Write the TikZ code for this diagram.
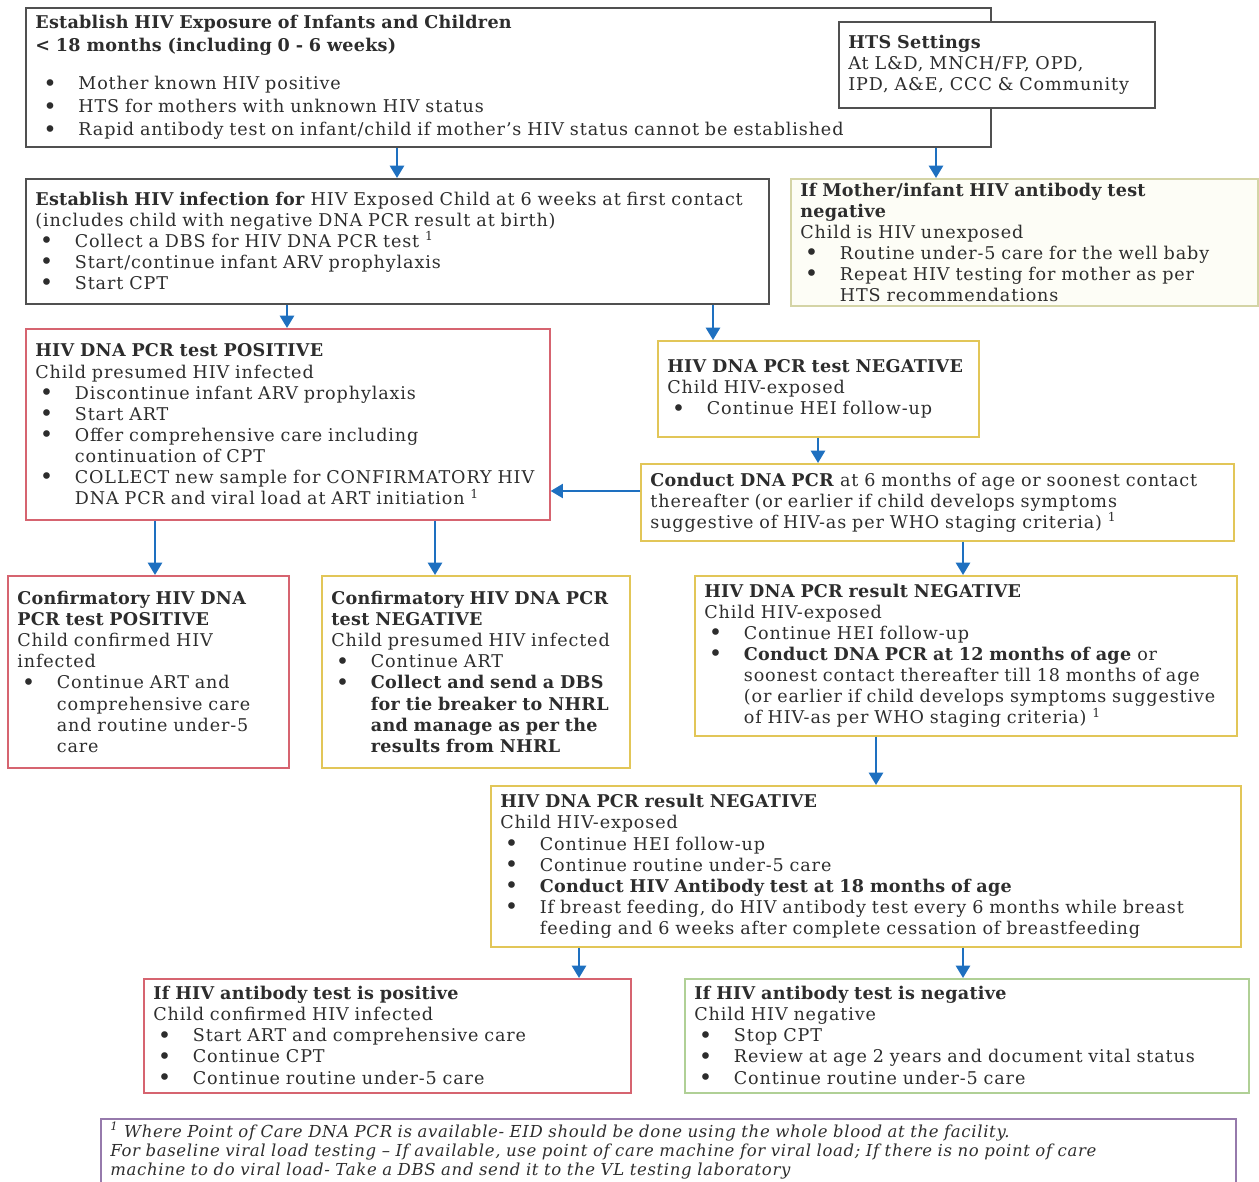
\documentclass[tikz,border=0pt]{standalone}
\usepackage{fontspec}
\setmainfont{DejaVu Serif}[LetterSpace=5, BoldFeatures={LetterSpace=1.5}, ItalicFeatures={LetterSpace=4}]
\usetikzlibrary{arrows.meta}

\definecolor{txt}{RGB}{45,45,45}
\definecolor{gline}{RGB}{80,80,80}
\definecolor{rline}{RGB}{214,100,112}
\definecolor{yline}{RGB}{226,198,88}
\definecolor{oline}{RGB}{212,212,166}
\definecolor{ofill}{RGB}{253,253,246}
\definecolor{gnline}{RGB}{176,208,150}
\definecolor{pline}{RGB}{150,122,172}
\definecolor{arrblue}{RGB}{30,112,192}

\newcommand{\bul}{\hspace*{2.5pt}\makebox[20pt][l]{\raisebox{-0.8pt}{\fontsize{13}{12}\selectfont\textbullet}}}
\newcommand{\hang}{\hspace*{22.5pt}}
\newcommand{\fn}{\textsuperscript{1}}

\begin{document}
\begin{tikzpicture}[x=0.02cm, y=-0.02cm,
	box/.style={draw, line width=1pt, anchor=north west, align=left,
		inner xsep=0.19cm, inner ysep=0.08cm, text=txt,
		font=\fontsize{10}{12}\selectfont},
	gbox/.style={box, draw=gline, fill=white},
	rbox/.style={box, draw=rline},
	ybox/.style={box, draw=yline},
	arr/.style={draw=arrblue, line width=1.3pt, -{Triangle[width=8pt,length=7pt]}}]
	\useasboundingbox (0,0) rectangle (1259,1182);

	\node[gbox, text width=18.92cm, minimum height=2.78cm, font=\fontsize{10}{13}\selectfont] (expo) at (25,7)
		{\textbf{Establish HIV Exposure of Infants and Children}\\
		\textbf{\textless{} 18 months (including 0 - 6 weeks)}\\[9pt]
		\hspace*{2pt}\bul Mother known HIV positive\\
		\hspace*{2pt}\bul HTS for mothers with unknown HIV status\\
		\hspace*{2pt}\bul Rapid antibody test on infant/child if mother’s HIV status cannot be established};

	\node[gbox, text width=5.94cm, minimum height=1.72cm] (hts) at (838,21)
		{\textbf{HTS Settings}\\
		At L\&D, MNCH/FP, OPD,\\
		IPD, A\&E, CCC \& Community};

	\node[gbox, text width=14.48cm, minimum height=2.5cm] (infect) at (25,178)
		{\textbf{Establish HIV infection for} HIV Exposed Child at 6 weeks at first contact\\
		(includes child with negative DNA PCR result at birth)\\
		\bul Collect a DBS for HIV DNA PCR test \fn\\
		\bul Start/continue infant ARV prophylaxis\\
		\bul Start CPT};

	\node[box, draw=oline, fill=ofill, text width=8.96cm, minimum height=2.5cm] (unexp) at (790,178)
		{\textbf{If Mother/infant HIV antibody test}\\
		\textbf{negative}\\
		Child is HIV unexposed\\
		\bul Routine under-5 care for the well baby\\
		\bul Repeat HIV testing for mother as per\\
		\hang HTS recommendations};

	\node[rbox, text width=10.1cm, minimum height=3.82cm] (pos) at (25,328)
		{\textbf{HIV DNA PCR test POSITIVE}\\
		Child presumed HIV infected\\
		\bul Discontinue infant ARV prophylaxis\\
		\bul Start ART\\
		\bul Offer comprehensive care including\\
		\hang continuation of CPT\\
		\bul COLLECT new sample for CONFIRMATORY HIV\\
		\hang DNA PCR and viral load at ART initiation \fn};

	\node[ybox, text width=6.04cm, minimum height=1.92cm] (neg) at (657,340)
		{\textbf{HIV DNA PCR test NEGATIVE}\\
		Child HIV-exposed\\
		\bul Continue HEI follow-up};

	\node[ybox, text width=11.48cm, minimum height=1.54cm] (cond) at (640,463)
		{\textbf{Conduct DNA PCR} at 6 months of age or soonest contact\\
		thereafter (or earlier if child develops symptoms\\
		suggestive of HIV-as per WHO staging criteria) \fn};

	\node[rbox, text width=5.24cm, minimum height=3.84cm] (cpos) at (7,575)
		{\textbf{Confirmatory HIV DNA}\\
		\textbf{PCR test POSITIVE}\\
		Child confirmed HIV\\
		infected\\
		\bul Continue ART and\\
		\hang comprehensive care\\
		\hang and routine under-5\\
		\hang care};

	\node[ybox, text width=5.78cm, minimum height=3.84cm] (cneg) at (321,575)
		{\textbf{Confirmatory HIV DNA PCR}\\
		\textbf{test NEGATIVE}\\
		Child presumed HIV infected\\
		\bul Continue ART\\
		\bul \textbf{Collect and send a DBS}\\
		\hang\textbf{for tie breaker to NHRL}\\
		\hang\textbf{and manage as per the}\\
		\hang\textbf{results from NHRL}};

	\node[ybox, text width=10.46cm, minimum height=3.2cm] (negtw) at (694,575)
		{\textbf{HIV DNA PCR result NEGATIVE}\\
		Child HIV-exposed\\
		\bul Continue HEI follow-up\\
		\bul \textbf{Conduct DNA PCR at 12 months of age} or\\
		\hang soonest contact thereafter till 18 months of age\\
		\hang (or earlier if child develops symptoms suggestive\\
		\hang of HIV-as per WHO staging criteria) \fn};

	\node[ybox, text width=14.62cm, minimum height=3.22cm] (negei) at (490,785)
		{\textbf{HIV DNA PCR result NEGATIVE}\\
		Child HIV-exposed\\
		\bul Continue HEI follow-up\\
		\bul Continue routine under-5 care\\
		\bul \textbf{Conduct HIV Antibody test at 18 months of age}\\
		\bul If breast feeding, do HIV antibody test every 6 months while breast\\
		\hang feeding and 6 weeks after complete cessation of breastfeeding};

	\node[rbox, text width=9.36cm, minimum height=2.28cm] (abpos) at (143,978)
		{\textbf{If HIV antibody test is positive}\\
		Child confirmed HIV infected\\
		\bul Start ART and comprehensive care\\
		\bul Continue CPT\\
		\bul Continue routine under-5 care};

	\node[box, draw=gnline, text width=10.9cm, minimum height=2.28cm] (abneg) at (684,978)
		{\textbf{If HIV antibody test is negative}\\
		Child HIV negative\\
		\bul Stop CPT\\
		\bul Review at age 2 years and document vital status\\
		\bul Continue routine under-5 care};

	\node[box, draw=pline, text width=22.32cm, inner ysep=0.06cm,
		font=\fontsize{9.4}{10.8}\selectfont\itshape] (foot) at (100,1118)
		{\fn{} Where Point of Care DNA PCR is available- EID should be done using the whole blood at the facility.\\
		For baseline viral load testing -- If available, use point of care machine for viral load; If there is no point of care\\
		machine to do viral load- Take a DBS and send it to the VL testing laboratory\\
		\strut};

	\draw[arr] (expo.south -| 397,0) -- (infect.north -| 397,0);
	\draw[arr] (expo.south -| 936,0) -- (unexp.north -| 936,0);
	\draw[arr] (infect.south -| 287,0) -- (pos.north -| 287,0);
	\draw[arr] (infect.south -| 713,0) -- (neg.north -| 713,0);
	\draw[arr] (neg.south -| 818,0) -- (cond.north -| 818,0);
	\draw[arr] (cond.west |- 0,491) -- (pos.east |- 0,491);
	\draw[arr] (pos.south -| 155,0) -- (cpos.north -| 155,0);
	\draw[arr] (pos.south -| 435,0) -- (cneg.north -| 435,0);
	\draw[arr] (cond.south -| 963,0) -- (negtw.north -| 963,0);
	\draw[arr] (negtw.south -| 876,0) -- (negei.north -| 876,0);
	\draw[arr] (negei.south -| 579,0) -- (abpos.north -| 579,0);
	\draw[arr] (negei.south -| 963,0) -- (abneg.north -| 963,0);
\end{tikzpicture}
\end{document}
